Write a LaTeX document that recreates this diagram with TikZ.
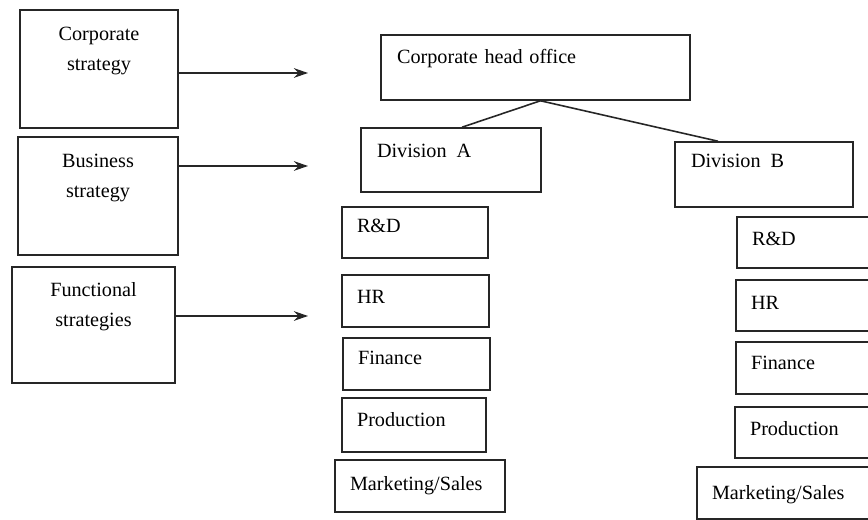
\documentclass[tikz,border=0pt]{standalone}
\usepackage{fontspec}
\setmainfont{Liberation Serif}
\usetikzlibrary{arrows.meta}
\begin{document}
\begin{tikzpicture}[x=0.02cm, y=-0.02cm,
  every node/.style={font=\fontsize{11.5}{17}\selectfont},
  level/.style={draw=black!85, line width=0.9pt, align=center, inner sep=0pt, text depth=40pt},
  unit/.style={draw=black!85, line width=0.9pt, align=left, inner xsep=0.32cm, inner ysep=0pt, text height=8pt, text depth=11pt},
  dept/.style={draw=black!85, line width=0.9pt, align=left, inner xsep=0.3cm, inner ysep=0pt, text height=8pt, text depth=5pt, minimum height=1.03cm},
  link/.style={draw=black!85, line width=0.9pt},
  push/.style={link, -{Stealth[length=8pt, width=5.5pt]}}]
\useasboundingbox[fill=white] (0,0) rectangle (868,520);
% strategy levels
\node[level, text width=3.16cm, minimum height=2.36cm] (cs) at (99,69) {Corporate\\strategy};
\node[level, text width=3.2cm, minimum height=2.36cm] (bs) at (98,196) {Business\\strategy};
\node[level, text width=3.26cm, minimum height=2.32cm] (fs) at (93.5,325) {Functional\\strategies};
% organisation
\node[unit, text width=5.54cm, minimum height=1.3cm, text depth=12pt] (head) at (535.5,67.5) {Corporate head office};
\node[unit, text width=2.96cm, minimum height=1.28cm] (divA) at (451,160) {Division\enspace A};
\node[unit, text width=2.92cm, minimum height=1.3cm, text depth=16pt] (divB) at (764,174.5) {Division\enspace B};
% division A functions
\node[dept, text width=2.32cm, text depth=8pt] (aRD) at (415,232.5) {R\&D};
\node[dept, text width=2.34cm] (aHR) at (415.5,301) {HR};
\node[dept, text width=2.34cm, text depth=7pt] (aFin) at (416.5,364) {Finance};
\node[dept, text width=2.28cm, text depth=6pt, minimum height=1.08cm] (aProd) at (414,425) {Production};
\node[dept, text width=2.8cm, text depth=3pt] (aMkt) at (420,486) {Marketing/Sales};
% division B functions
\node[dept, text width=2.32cm] (bRD) at (810,242.5) {R\&D};
\node[dept, text width=2.32cm, text depth=4pt] (bHR) at (809,305.5) {HR};
\node[dept, text width=2.32cm, text depth=6pt] (bFin) at (809,368) {Finance};
\node[dept, text width=2.32cm] (bProd) at (808,432.5) {Production};
\node[dept, text width=3.3cm, text depth=1pt] (bMkt) at (794.5,493) {Marketing/Sales};
% arrows
\coordinate (t1) at (308,73);
\coordinate (t2) at (308,166);
\coordinate (t3) at (308,316);
\draw[push] (cs.east |- t1) -- (t1);
\draw[push] (bs.east |- t2) -- (t2);
\draw[push] (fs.east |- t3) -- (t3);
\draw[link] ([xshift=0.1cm]head.south) -- ([xshift=0.22cm]divA.north);
\draw[link] ([xshift=0.1cm]head.south) -- ([xshift=-0.92cm]divB.north);
\end{tikzpicture}
\end{document}
